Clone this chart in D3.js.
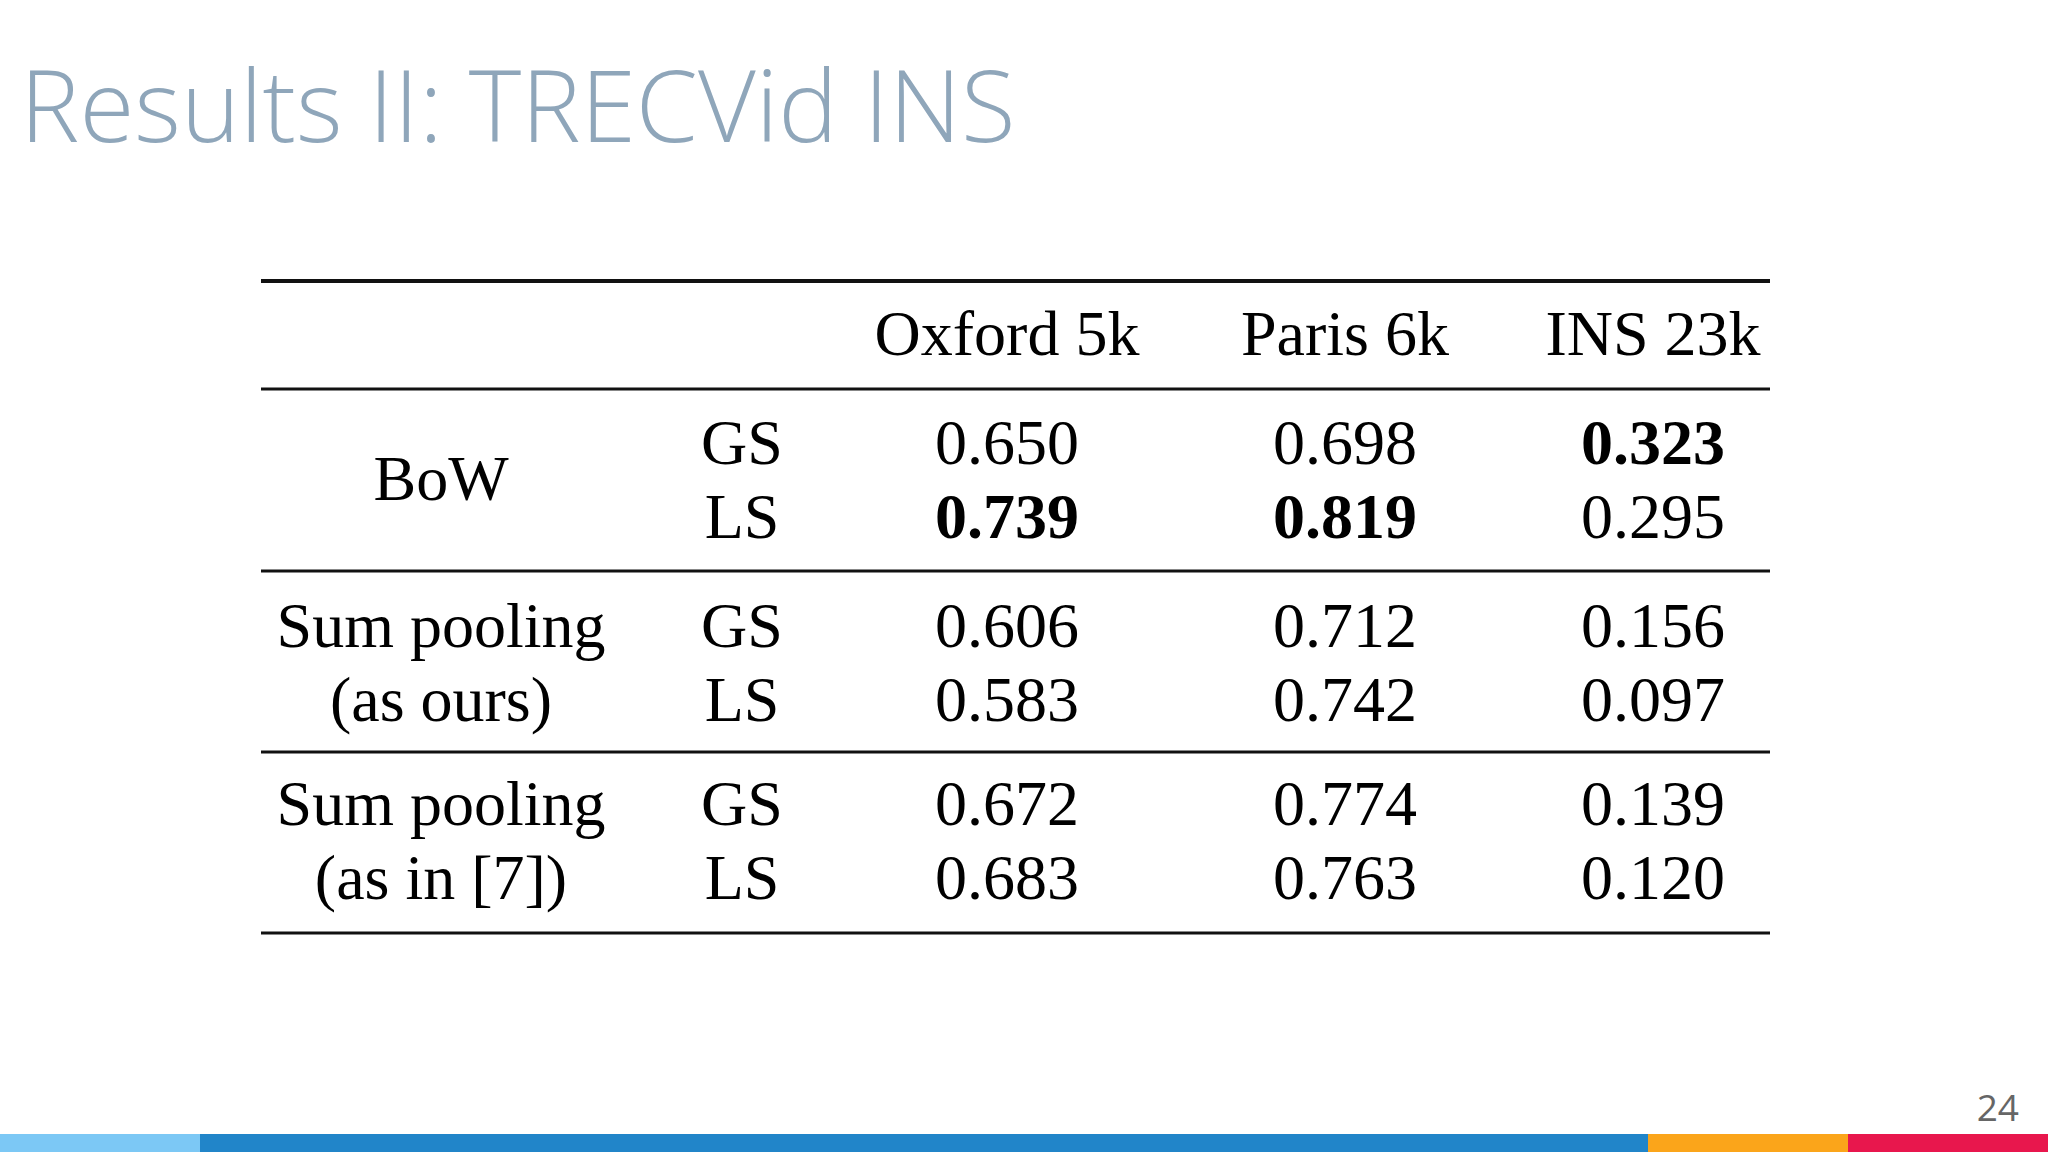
<!DOCTYPE html>
<html><head><meta charset="utf-8">
<script src="https://cdn.jsdelivr.net/npm/d3@7"></script>
<style>body{margin:0;background:#fff}svg{display:block}</style>
</head><body><svg id="c" width="2048" height="1152"></svg>
<script>
const columns = ["Oxford 5k","Paris 6k","INS 23k"];
const groups = [["BoW"],["Sum pooling","(as ours)"],["Sum pooling","(as in [7])"]];
const subRows = ["GS","LS"];
const values = [
  [["0.650","0.698","0.323"],["0.739","0.819","0.295"]],
  [["0.606","0.712","0.156"],["0.583","0.742","0.097"]],
  [["0.672","0.774","0.139"],["0.683","0.763","0.120"]]
];
const bold = [[[0,0,1],[1,1,0]],[[0,0,0],[0,0,0]],[[0,0,0],[0,0,0]]];

const svg = d3.select("#c");
const serif = "'Liberation Serif','DejaVu Serif',serif";
svg.append("text").attr("x",20).attr("y",142).attr("font-family","'Open Sans',Lato,sans-serif")
  .attr("font-weight",300).attr("font-size",100).attr("fill","#8fa6ba").text("Results II: TRECVid INS");

const colX = d3.scalePoint().domain(["label","sub",...columns]).range([441,1653]);
const xPos = {label:441, sub:742, "Oxford 5k":1007, "Paris 6k":1345, "INS 23k":1653};
const groupY = d3.scaleLinear().domain([0,1]).range([464,647]); // step per group ~181
const lines = [281,389,571,752,933];
lines.forEach((y,i)=>svg.append("line").attr("x1",261).attr("x2",1770).attr("y1",y).attr("y2",y)
  .attr("stroke","#111").attr("stroke-width",i==0?4:3));
const fs = 64;
columns.forEach(c=>svg.append("text").attr("x",xPos[c]).attr("y",355).attr("text-anchor","middle")
  .attr("font-family",serif).attr("font-size",fs).text(c));
groups.forEach((g,gi)=>{
  const y0 = groupY(gi) - (gi>0? (gi==1?0:-3):0);
  const base = [464,647,825][gi];
  if(g.length==1) svg.append("text").attr("x",xPos.label).attr("y",base+36).attr("text-anchor","middle")
    .attr("font-family",serif).attr("font-size",fs).text(g[0]);
  else g.forEach((t,ti)=>svg.append("text").attr("x",xPos.label).attr("y",base+ti*74).attr("text-anchor","middle")
    .attr("font-family",serif).attr("font-size",fs).text(t));
  subRows.forEach((s,si)=>{
    const y = base+si*74;
    svg.append("text").attr("x",xPos.sub).attr("y",y).attr("text-anchor","middle")
      .attr("font-family",serif).attr("font-size",fs).text(s);
    columns.forEach((c,ci)=>svg.append("text").attr("x",xPos[c]).attr("y",y).attr("text-anchor","middle")
      .attr("font-family",serif).attr("font-size",fs).attr("font-weight",bold[gi][si][ci]?"bold":"normal")
      .text(values[gi][si][ci]));
  });
});
[[0,200,"#7cc8f5"],[200,1648,"#2185c9"],[1648,1848,"#fba51a"],[1848,2048,"#e8174d"]]
  .forEach(([a,b,c])=>svg.append("rect").attr("x",a).attr("y",1134).attr("width",b-a).attr("height",18).attr("fill",c));
svg.append("text").attr("x",2019).attr("y",1121).attr("text-anchor","end").attr("font-family","'Open Sans',sans-serif")
  .attr("font-size",37).attr("fill","#666").text("24");
</script></body></html>
